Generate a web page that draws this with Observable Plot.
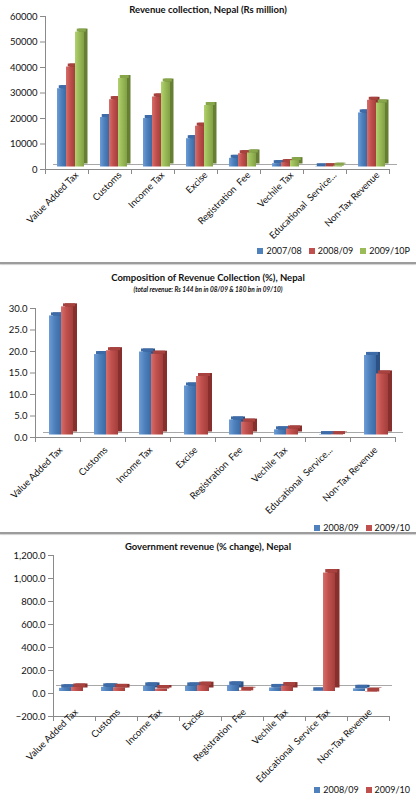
<!DOCTYPE html>
<html>
<head>
<meta charset="utf-8">
<script src="https://cdn.jsdelivr.net/npm/d3@7"></script>
<script src="https://cdn.jsdelivr.net/npm/@observablehq/plot@0.6"></script>
<style>
  html, body { margin: 0; padding: 0; background: #fff; }
  body { font-family: Lato, "Open Sans", sans-serif; color: #111; }
  #root { position: relative; width: 416px; height: 800px; overflow: hidden; background: #fff; }
  .title { position: absolute; left: 0; width: 416px; text-align: center; font-weight: bold; font-size: 9.5px; line-height: 12px; color: #111; white-space: nowrap; }
  .sub { position: absolute; left: 0; width: 416px; text-align: center; font-weight: bold; font-style: italic; font-size: 6.5px; line-height: 9px; color: #111; white-space: nowrap; }
  .legend { position: absolute; right: 6px; font-size: 9px; line-height: 11px; display: flex; gap: 7px; color: #111; white-space: nowrap; }
  .legend span.item { display: inline-flex; align-items: center; }
  .legend i { display: inline-block; width: 6px; height: 6px; margin-right: 3px; }
  .sep { position: absolute; left: 0; width: 416px; height: 2px; background: #9c9c9c; box-shadow: 0 1px 1px #d0d0d0; }
  .chart { position: absolute; left: 0; }
</style>
</head>
<body>
<svg width="0" height="0" style="position:absolute">
  <defs>
    <linearGradient id="g-blue" x1="0" x2="1" y1="0" y2="0">
      <stop offset="0" stop-color="#6d9dd9"/><stop offset="0.45" stop-color="#4f81bd"/><stop offset="1" stop-color="#3b6aa3"/>
    </linearGradient>
    <linearGradient id="g-red" x1="0" x2="1" y1="0" y2="0">
      <stop offset="0" stop-color="#d86e6a"/><stop offset="0.45" stop-color="#c0504d"/><stop offset="1" stop-color="#a33f3c"/>
    </linearGradient>
    <linearGradient id="g-green" x1="0" x2="1" y1="0" y2="0">
      <stop offset="0" stop-color="#b2d16f"/><stop offset="0.45" stop-color="#9bbb59"/><stop offset="1" stop-color="#82a045"/>
    </linearGradient>
  </defs>
</svg>
<div id="root"></div>
<script>
// ---------- data ----------
const categories = ["Value Added Tax", "Customs", "Income Tax", "Excise", "Registration Fee", "Vechile Tax", "Educational Service Tax", "Non-Tax Revenue"];
const labelsTruncated = ["Value Added Tax", "Customs", "Income Tax", "Excise", "Registration  Fee", "Vechile Tax", "Educational  Service...", "Non-Tax Revenue"];
const labelsFull = ["Value Added Tax", "Customs", "Income Tax", "Excise", "Registration  Fee", "Vechile Tax", "Educational  Service Tax", "Non-Tax Revenue"];

const revenueSeries = ["2007/08", "2008/09", "2009/10P"];
const revenue2007_08 = [30700, 19400, 19000, 11100, 3400, 1300, 100, 21200];
const revenue2008_09 = [39200, 26400, 27450, 16000, 5200, 1700, 150, 26150];
const revenue2009_10P = [52900, 34700, 33300, 24100, 5500, 2500, 300, 25100];
const revenueTicks = [0, 10000, 20000, 30000, 40000, 50000, 60000];

const shareSeries = ["2008/09", "2009/10"];
const share2008_09 = [27.7, 18.7, 19.3, 11.4, 3.5, 1.2, 0.1, 18.5];
const share2009_10 = [29.8, 19.6, 18.8, 13.6, 3.0, 1.4, 0.1, 14.2];
const shareTicks = [0, 5, 10, 15, 20, 25, 30];

const changeSeries = ["2008/09", "2009/10"];
const change2008_09 = [27.7, 36.1, 44.5, 44.1, 52.9, 30.8, 2, 23.3];
const change2009_10 = [35.0, 31.4, 21.3, 50.6, 5.8, 47.1, 1030, -4.0];
const changeTicks = [-200, 0, 200, 400, 600, 800, 1000, 1200];

const titles = {
  revenue: "Revenue collection, Nepal (Rs million)",
  share: "Composition of Revenue Collection (%),  Nepal",
  shareSub: "(total revenue: Rs  144 bn in 08/09  & 180 bn in 09/10)",
  change: "Government revenue (% change), Nepal"
};

// ---------- styles ----------
const seriesStyles = [
  {front: "url(#g-blue)", side: "#2c5185", top: "#3d6ba8", swatch: "#4F81BD"},
  {front: "url(#g-red)", side: "#862f2c", top: "#a8423f", swatch: "#C0504D"},
  {front: "url(#g-green)", side: "#667f34", top: "#87a64a", swatch: "#9BBB59"}
];

const root = document.getElementById("root");

function addDiv(cls, text, top) {
  const d = document.createElement("div");
  d.className = cls;
  if (text != null) d.textContent = text;
  d.style.top = top + "px";
  root.appendChild(d);
  return d;
}

function addLegend(series, top) {
  const d = addDiv("legend", null, top);
  series.forEach((s, i) => {
    const it = document.createElement("span");
    it.className = "item";
    const sw = document.createElement("i");
    sw.style.background = seriesStyles[i].swatch;
    it.appendChild(sw);
    it.appendChild(document.createTextNode(s));
    d.appendChild(it);
  });
}

function chart3d(cfg) {
  const {series, values, ticks, format, labels, top, height, mt, mb, ml, mr,
         po, align, depth, lift, back, baseline, labelDx, labelDy, labelPad} = cfg;
  const rows = [];
  categories.forEach((c, ci) => series.forEach((s, si) => rows.push({category: c, series: s, value: values[si][ci]})));
  const plotH = height - mt - mb;
  const labelOf = new Map(categories.map((c, i) => [c, labels[i]]));
  const marks = [];
  // floor: back edge and front edge
  marks.push(Plot.ruleY([back.value], {stroke: "#a8a8a8", strokeWidth: 1, dx: back.dx, dy: back.dy}));
  marks.push(Plot.ruleY([baseline], {stroke: "#8a8a8a", strokeWidth: 1}));
  // category boundary ticks
  marks.push(Plot.frame({anchor: "left", stroke: "#8a8a8a", insetTop: plotH, insetBottom: -4}));
  marks.push(Plot.frame({anchor: "right", facetAnchor: "right", stroke: "#8a8a8a", insetTop: plotH, insetBottom: -4}));
  // bars in three layers: side, top, front
  const common = {fx: "category", x: "series"};
  series.forEach((s, i) => {
    const data = rows.filter(r => r.series === s);
    marks.push(Plot.barY(data, {...common, y: "value", fill: seriesStyles[i].side, dx: depth[0], dy: depth[1] + lift}));
  });
  series.forEach((s, i) => {
    const data = rows.filter(r => r.series === s);
    marks.push(Plot.barY(data, {...common, y1: "value", y2: "value", insetTop: depth[1], fill: seriesStyles[i].top, dx: depth[0] / 2, dy: lift}));
  });
  series.forEach((s, i) => {
    const data = rows.filter(r => r.series === s);
    marks.push(Plot.barY(data, {...common, y: "value", fill: seriesStyles[i].front, dy: lift}));
  });
  // axes
  marks.push(Plot.frame({anchor: "left", facetAnchor: "left", stroke: "#8a8a8a"}));
  marks.push(Plot.axisY({ticks, tickFormat: format, tickSize: 5, tickPadding: 3, label: null, fontSize: 9.5, stroke: "#8a8a8a", fill: "#111"}));
  marks.push(Plot.axisFx({anchor: "bottom", tickRotate: -45, tickSize: 0, tickPadding: labelPad, label: null,
    tickFormat: d => labelOf.get(d), dx: labelDx, dy: labelDy, fontSize: 9.5, fill: "#111"}));

  const svg = Plot.plot({
    width: 416,
    height,
    marginTop: mt, marginBottom: mb, marginLeft: ml, marginRight: mr,
    style: {fontFamily: "Lato, 'Open Sans', sans-serif", fontSize: "9.5px", color: "#111", background: "transparent", overflow: "visible"},
    fx: {domain: categories, paddingInner: 0, paddingOuter: 0, axis: null, label: null},
    x: {domain: series, paddingInner: 0, paddingOuter: po, align, axis: null},
    y: {domain: [ticks[0], ticks[ticks.length - 1]], axis: null},
    marks
  });
  svg.classList.add("chart");
  svg.style.position = "absolute";
  svg.style.top = top + "px";
  svg.style.left = "0px";
  root.appendChild(svg);
}

// ---------- chart 1 ----------
addDiv("title", titles.revenue, 4);
chart3d({
  series: revenueSeries,
  values: [revenue2007_08, revenue2008_09, revenue2009_10P],
  ticks: revenueTicks, format: d3.format("d"), labels: labelsTruncated,
  top: 0, height: 245, mt: 16, mb: 76, ml: 45, mr: 27,
  po: 0.83, align: 0.78, depth: [3.5, -3], lift: -2.5,
  back: {value: 0, dx: 8, dy: -5}, baseline: 0,
  labelDx: 10, labelDy: 0, labelPad: 4
});
addLegend(revenueSeries, 245);
addDiv("sep", null, 262);

// ---------- chart 2 ----------
addDiv("title", titles.share, 272);
addDiv("sub", titles.shareSub, 285);
chart3d({
  series: shareSeries,
  values: [share2008_09, share2009_10],
  ticks: shareTicks, format: d3.format(".1f"), labels: labelsTruncated,
  top: 264, height: 250, mt: 44, mb: 77, ml: 35, mr: 21,
  po: 0.77, align: 0.66, depth: [4, -3], lift: -2.5,
  back: {value: 0, dx: 8, dy: -5}, baseline: 0,
  labelDx: 3, labelDy: 0, labelPad: 11
});
addLegend(shareSeries, 522);
addDiv("sep", null, 532);

// ---------- chart 3 ----------
addDiv("title", titles.change, 541);
chart3d({
  series: changeSeries,
  values: [change2008_09, change2009_10],
  ticks: changeTicks, format: d3.format(",.1f"), labels: labelsFull,
  top: 534, height: 250, mt: 21, mb: 68, ml: 50, mr: 24,
  po: 0.75, align: 0.35, depth: [4.5, -3.5], lift: -2,
  back: {value: 0, dx: 3, dy: -8}, baseline: -200,
  labelDx: 2, labelDy: -6, labelPad: 0
});
addLegend(changeSeries, 784);
</script>
</body>
</html>
